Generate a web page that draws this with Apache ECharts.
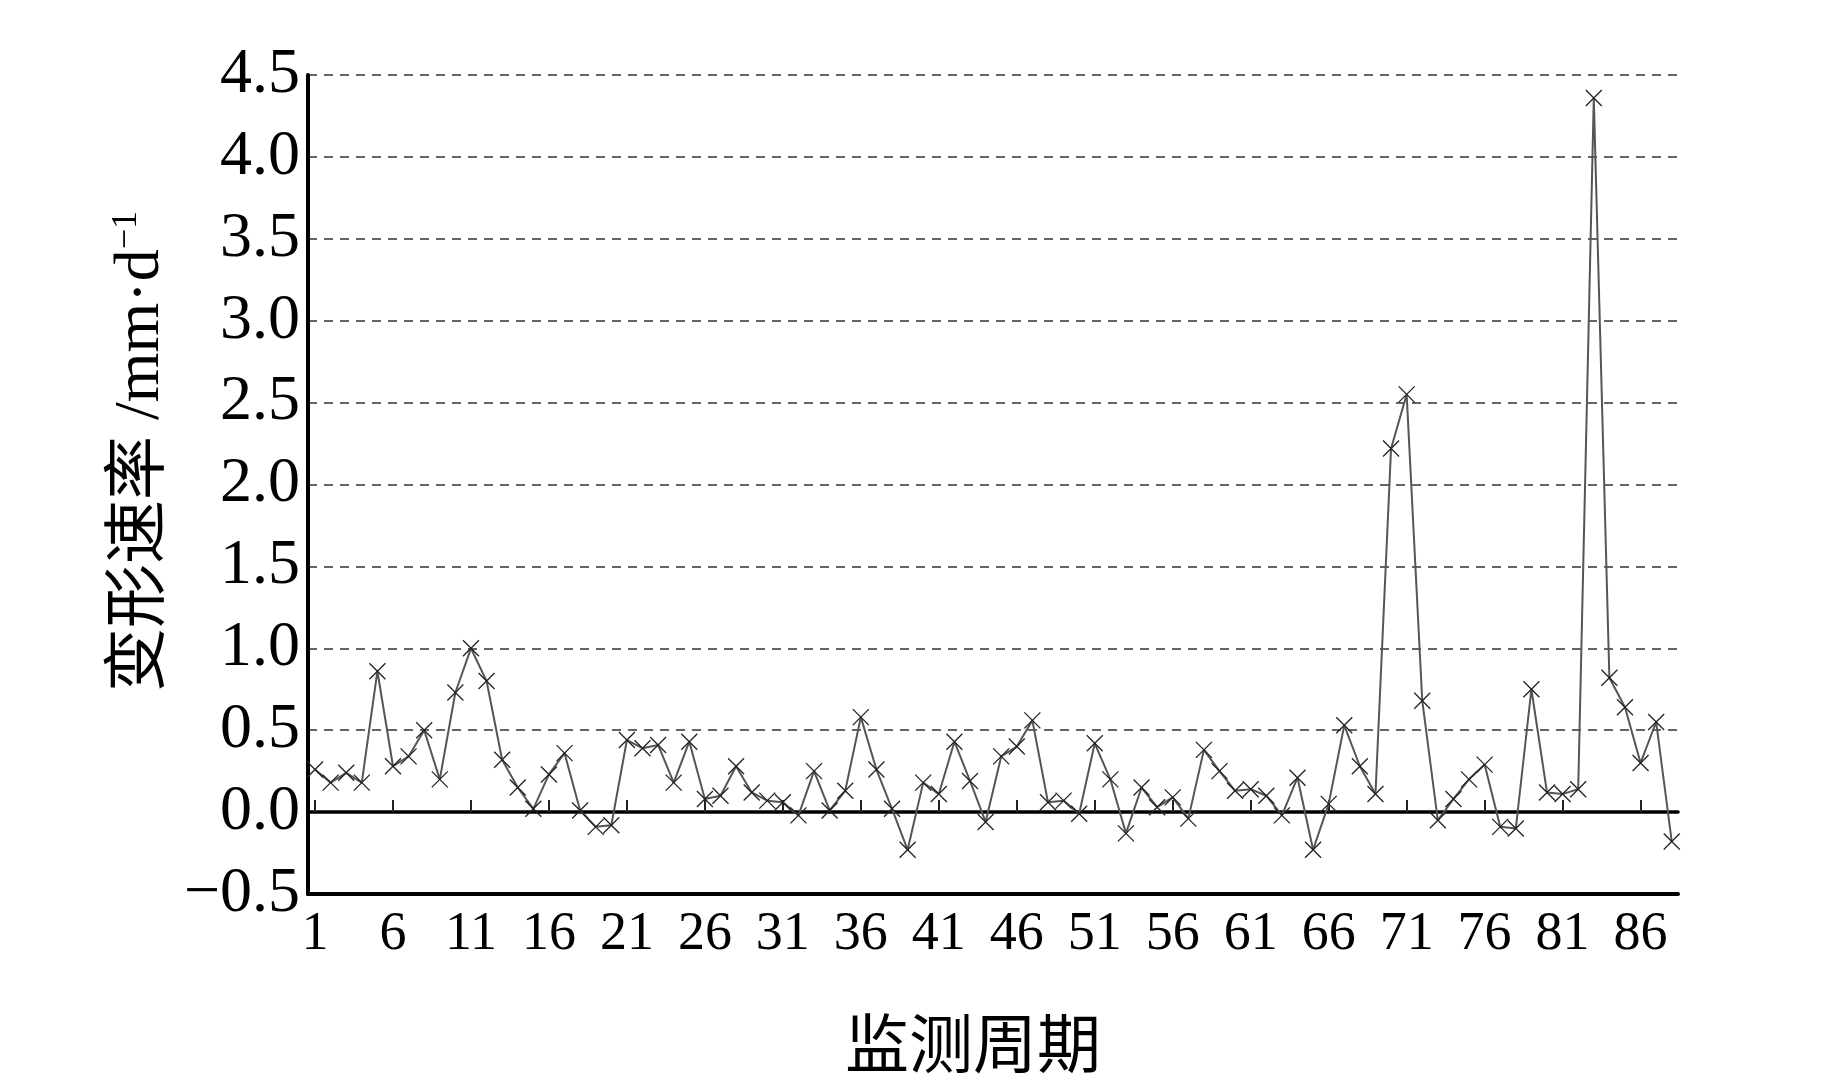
<!DOCTYPE html>
<html lang="zh">
<head>
  <meta charset="UTF-8">
  <title>变形速率</title>
  <style>
    html,body{margin:0;padding:0;background:#fff;}
    #main{width:1843px;height:1087px;}
  </style>
</head>
<body>
  <div id="main"></div>
  <script src="https://cdn.jsdelivr.net/npm/echarts@6/dist/echarts.min.js"></script>
  <script>
    // 监测周期 1..88 对应的变形速率 (mm/d)
    const rate = [
      0.26, 0.18, 0.24, 0.18, 0.86, 0.28, 0.34, 0.50, 0.20, 0.73,
      1.00, 0.80, 0.32, 0.15, 0.02, 0.23, 0.36, 0.01, -0.09, -0.08,
      0.44, 0.39, 0.41, 0.18, 0.43, 0.08, 0.10, 0.28, 0.12, 0.07,
      0.06, -0.02, 0.25, 0.01, 0.13, 0.58, 0.26, 0.02, -0.23, 0.18,
      0.11, 0.43, 0.19, -0.06, 0.34, 0.40, 0.56, 0.06, 0.07, -0.01,
      0.42, 0.20, -0.13, 0.15, 0.03, 0.09, -0.04, 0.38, 0.25, 0.13,
      0.14, 0.10, -0.02, 0.21, -0.23, 0.05, 0.53, 0.28, 0.11, 2.22,
      2.55, 0.68, -0.05, 0.08, 0.20, 0.29, -0.09, -0.10, 0.75, 0.12,
      0.11, 0.14, 4.36, 0.82, 0.64, 0.30, 0.55, -0.18
    ];
    const xTickLabels = [1, 6, 11, 16, 21, 26, 31, 36, 41, 46, 51, 56, 61, 66, 71, 76, 81, 86];
    const yMin = -0.5, yMax = 4.5, yStep = 0.5;

    const serif = "'Liberation Serif','Times New Roman','Noto Sans CJK SC',serif";
    const chart = echarts.init(document.querySelector('#main'), null, {renderer: 'canvas'});

    const option = {
      backgroundColor: '#fff',
      animation: false,
      grid: {left: 308, right: 165, top: 75, bottom: 192},
      xAxis: [
        {
          type: 'value',
          min: 0.55,
          max: 88.4,
          name: '监测周期',
          nameLocation: 'middle',
          nameGap: 124,
          nameTextStyle: {fontFamily: serif, fontSize: 64, color: '#000', padding: [0, 40, 0, 0]},
          axisLine: {onZero: false, lineStyle: {color: '#000', width: 4}},
          axisTick: {show: false},
          splitLine: {show: false},
          axisLabel: {
            customValues: xTickLabels,
            fontFamily: serif,
            fontSize: 54,
            color: '#000',
            margin: 14
          }
        },
        {
          // 零线，带向上的短刻度
          type: 'value',
          min: 0.55,
          max: 88.4,
          position: 'bottom',
          axisLine: {show: true, onZero: true, lineStyle: {color: '#000', width: 3.5}},
          axisTick: {show: true, inside: true, length: 12, customValues: xTickLabels, lineStyle: {color: '#222', width: 2}},
          axisLabel: {show: false},
          splitLine: {show: false}
        }
      ],
      yAxis: {
        type: 'value',
        min: yMin,
        max: yMax,
        interval: yStep,
        name: '变形速率 /mm·d{sup|−1}',
        nameLocation: 'middle',
        nameRotate: 90,
        nameGap: 134,
        nameTextStyle: {
          fontFamily: serif,
          fontSize: 64,
          color: '#000',
          padding: [0, 0, 0, 66],
          rich: {
            sup: {fontFamily: serif, fontSize: 36, color: '#000', verticalAlign: 'top', padding: [0, 0, 28, 0]}
          }
        },
        axisLine: {show: true, lineStyle: {color: '#000', width: 4}},
        axisTick: {show: false},
        axisLabel: {
          fontFamily: serif,
          fontSize: 64,
          color: '#000',
          margin: 8,
          formatter: v => (v < 0 ? '−' + Math.abs(v).toFixed(1) : v.toFixed(1))
        },
        splitLine: {show: true, lineStyle: {color: '#333', width: 1.6, type: [9, 7]}}
      },
      series: [
        {
          type: 'line',
          xAxisIndex: 0,
          data: rate.map((v, i) => [i + 1, v]),
          symbol: 'path://M0,0L10,10M10,0L0,10',
          symbolSize: 16,
          showAllSymbol: true,
          lineStyle: {color: '#555', width: 2},
          itemStyle: {color: 'transparent', borderColor: '#222', borderWidth: 1.3}
        }
      ]
    };
    chart.setOption(option);
  </script>
</body>
</html>
